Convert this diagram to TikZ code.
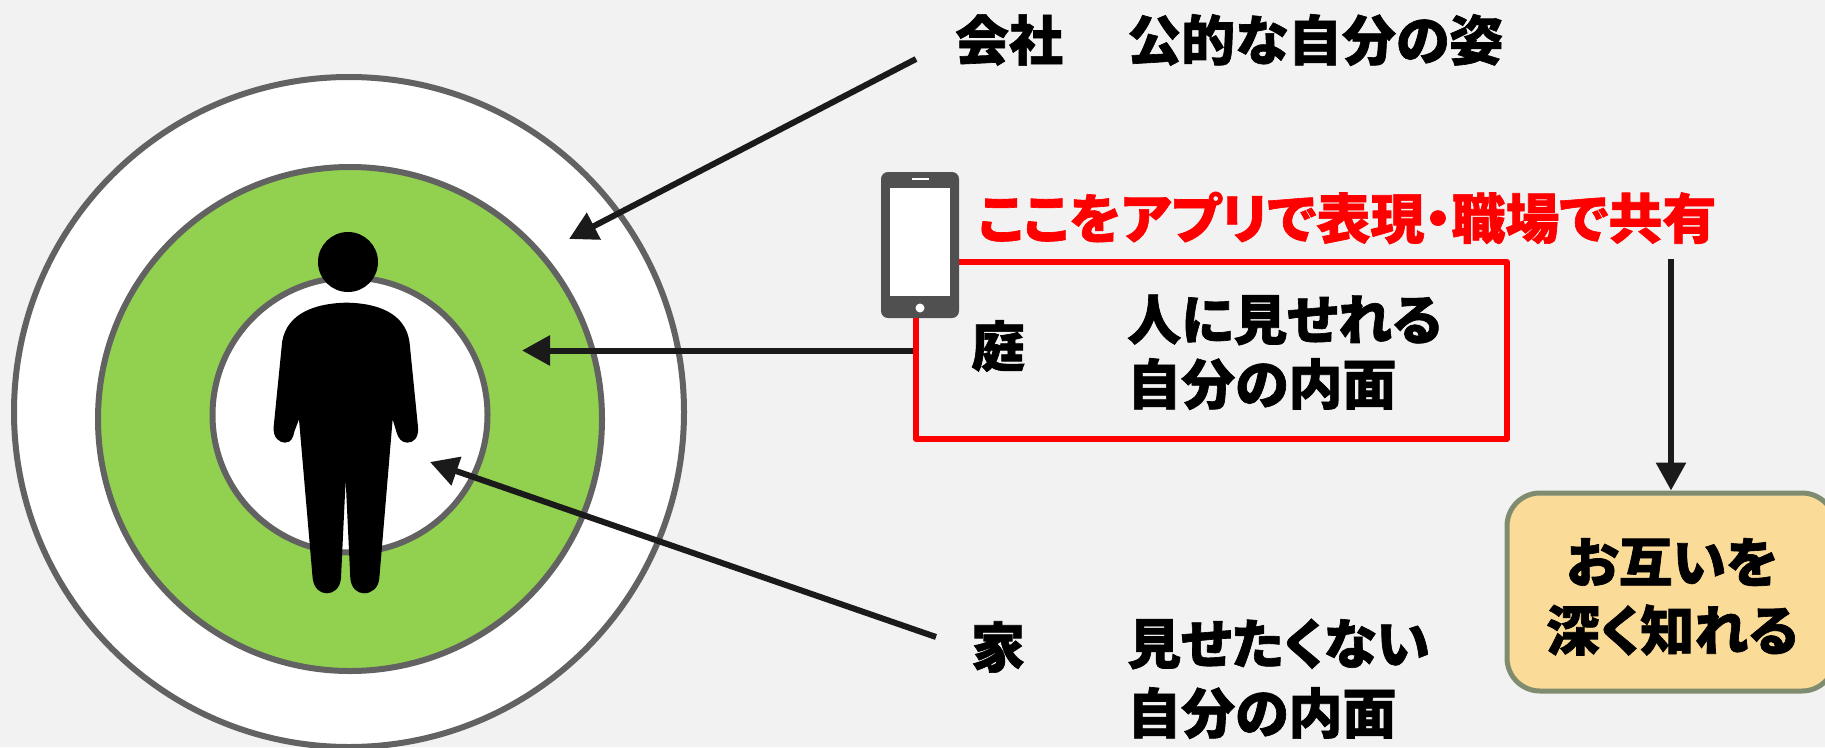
\documentclass[tikz,border=0pt]{standalone}
\usepackage{fontspec}
\usetikzlibrary{arrows.meta}
\newfontfamily\jp{Noto Sans CJK JP}[BoldFeatures={FakeBold=1.2}]
\newfontfamily\jpp{Noto Sans CJK JP}[RawFeature=+palt,BoldFeatures={FakeBold=1.2,RawFeature=+palt}]
\definecolor{bg}{HTML}{F2F2F2}
\definecolor{ring}{HTML}{626262}
\definecolor{grn}{HTML}{92D050}
\definecolor{ink}{HTML}{1A1A1A}
\definecolor{phone}{HTML}{505050}
\definecolor{cardfill}{HTML}{FADB98}
\definecolor{cardline}{HTML}{7F8C6F}
\tikzset{
  zone/.style={circle,draw=ring,line width=6pt,inner sep=0pt,outer sep=0pt},
  lbl/.style={font=\jp\bfseries\fontsize{54}{60}\selectfont,text=black,inner sep=0pt,align=left,anchor=center},
  txt/.style={font=\jpp\bfseries\fontsize{54}{60}\selectfont,text=black,inner sep=0pt,align=left,anchor=west},
  pointer/.style={draw=ink,line width=6pt,-{Triangle[length=28pt,width=29pt]},shorten >=0pt}
}
\begin{document}
\begin{tikzpicture}[x=1pt,y=-1pt]
\useasboundingbox (0,0) rectangle (1825,747);
\fill[bg] (0,0) rectangle (1825,747);
\clip (0,0) rectangle (1825,747);
% rings
\node[zone,fill=white,minimum size=670pt] (outer) at (349,412) {};
\node[zone,fill=grn,minimum size=504pt] (middle) at (350,419) {};
\node[zone,fill=white,minimum size=275pt] (inner) at (350,415) {};
% person
\node[circle,fill=black,inner sep=0pt,minimum size=60pt] (head) at (348,262) {};
\begin{scope}[shift={(200,210)},x=0.3333pt,y=-0.3333pt]
\fill[black] (440,278) .. controls (330,280) and (250,320) .. (245,410)
  -- (221,650) .. controls (218,685) and (240,698) .. (255,698)
  .. controls (275,698) and (280,680) .. (283,665) -- (297,628)
  -- (338,1105) .. controls (342,1135) and (360,1150) .. (380,1150)
  .. controls (402,1150) and (420,1135) .. (423,1105) -- (437,810)
  -- (451,1105) .. controls (454,1135) and (472,1150) .. (492,1150)
  .. controls (515,1150) and (535,1135) .. (538,1105) -- (578,628)
  -- (590,668) .. controls (595,685) and (605,698) .. (622,698)
  .. controls (640,698) and (657,685) .. (654,650) -- (630,410)
  .. controls (625,320) and (550,280) .. (440,278) -- cycle;
\end{scope}
% red frame
\node[draw=red,line width=6pt,line join=round,inner sep=0pt,minimum width=591pt,minimum height=177pt] (frame) at (1211.5,350.5) {};
% phone
\node[fill=phone,rounded corners=7pt,inner sep=0pt,minimum width=78pt,minimum height=146pt] (phonebody) at (920,245) {};
\node[fill=white,inner sep=0pt,minimum width=60pt,minimum height=108pt] (screen) at (920,242) {};
\node[circle,fill=white,inner sep=0pt,minimum size=9pt] (homebtn) at (920,308) {};
\node[fill=white,inner sep=0pt,minimum width=17pt,minimum height=2pt] (speaker) at (920,179) {};
% card
\node[draw=cardline,fill=cardfill,line width=5pt,rounded corners=33pt,inner sep=0pt,minimum width=328pt,minimum height=198pt] (card) at (1671,592) {};
% text
\node[lbl] (kaisha) at (1009,40) {会社};
\node[txt] (kaishat) at (1127,40) {公的な自分の姿};
\node[font=\jpp\bfseries\fontsize{54}{60}\selectfont,text=red,inner sep=0pt,anchor=west] (app) at (978,218) {ここをアプリで表現・職場で共有};
\node[lbl] (niwa) at (998,346) {庭};
\node[txt] (niwa1) at (1127,320) {人に見せれる};
\node[txt] (niwa2) at (1127,384) {自分の内面};
\node[lbl] (ie) at (998,647) {家};
\node[txt] (ie1) at (1127,644) {見せたくない};
\node[txt] (ie2) at (1127,713) {自分の内面};
\node[font=\jpp\bfseries\fontsize{54}{60}\selectfont,inner sep=0pt] (card1) at (1672,562) {お互いを};
\node[font=\jpp\bfseries\fontsize{54}{60}\selectfont,inner sep=0pt] (card2) at (1672,630) {深く知れる};
% connector ends
\coordinate (a1s) at (916,59);
\coordinate (a1e) at (569,239);
\coordinate (a2e) at (522,350.5);
\coordinate (a3s) at (936,637);
\coordinate (a3e) at (430,462);
\coordinate (a4s) at (1671,259);
\draw[pointer] (a1s) -- (a1e);
\draw[pointer] (frame.west) -- (a2e);
\draw[pointer] (a3s) -- (a3e);
\draw[pointer] (a4s) -- (card.north);
\end{tikzpicture}
\end{document}
